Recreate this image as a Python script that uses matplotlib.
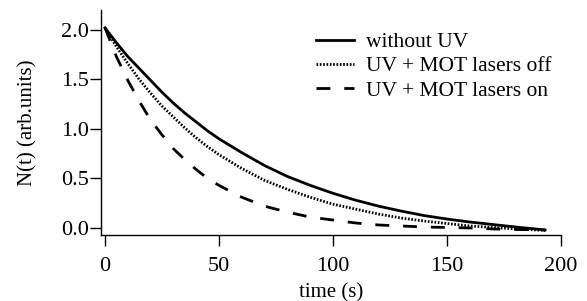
import numpy as np
import matplotlib
matplotlib.use("Agg")
import matplotlib.pyplot as plt

# time axis (s)
t = [0, 5, 10, 15, 20, 25, 30, 35, 40, 45, 50, 55, 60, 70, 80, 90, 100, 110, 120, 130, 140, 150, 160, 170, 180, 193]
n_without_uv = [2.02, 1.87, 1.73, 1.61, 1.49, 1.37, 1.26, 1.16, 1.07, 0.98, 0.90, 0.83, 0.76, 0.63, 0.52, 0.43, 0.35, 0.28, 0.22, 0.17, 0.125, 0.09, 0.06, 0.035, 0.01, -0.02]
n_mot_off = [2.02, 1.83, 1.66, 1.50, 1.36, 1.23, 1.12, 1.01, 0.91, 0.82, 0.74, 0.67, 0.60, 0.48, 0.39, 0.31, 0.24, 0.19, 0.14, 0.10, 0.07, 0.045, 0.02, 0.006, -0.01, -0.025]
n_mot_on = [2.02, 1.73, 1.49, 1.28, 1.09, 0.94, 0.80, 0.69, 0.59, 0.50, 0.43, 0.37, 0.31, 0.22, 0.16, 0.11, 0.08, 0.05, 0.03, 0.02, 0.01, 0.005, 0.0, -0.01, -0.015, -0.02]

labels = ["without UV", "UV + MOT lasers off", "UV + MOT lasers on"]

plt.rcParams['font.family'] = ['Liberation Serif', 'DejaVu Serif']

fig = plt.figure(figsize=(5.87, 3.01), dpi=100)
ax = fig.add_axes([101/587, 1-235/301, 460/587, 225/301])

ax.plot(t, n_without_uv, color='black', lw=2.0, label=labels[0])
ax.plot(t, n_mot_off, color='black', lw=2.0, linestyle=(0, (0.6, 0.6)), label=labels[1])
ax.plot(t, n_mot_on, color='black', lw=2.0, linestyle=(0, (5, 5)), label=labels[2])

ax.set_xlim(-1.75, 200)
ax.set_ylim(-0.071, 2.2)
ax.set_xticks([0, 50, 100, 150, 200])
ax.set_yticks([0.0, 0.5, 1.0, 1.5, 2.0])
ax.set_yticklabels(['0.0', '0.5', '1.0', '1.5', '2.0'])

for s in ['top', 'right']:
    ax.spines[s].set_visible(False)
for s in ['left', 'bottom']:
    ax.spines[s].set_linewidth(1.0)

ax.tick_params(axis='x', direction='out', length=8, width=1.0, pad=8, labelsize=16)
ax.tick_params(axis='y', direction='out', length=8, width=1.0, pad=1, labelsize=16)

ax.set_xlabel('time (s)', fontsize=15, labelpad=5)
ax.set_ylabel('N(t) (arb.units)', fontsize=15, labelpad=17)

fig.legend(loc='upper left', bbox_to_anchor=(316/587, 1-32/301), frameon=False,
           fontsize=15.5, handlelength=1.75, handletextpad=0.55, labelspacing=0.2,
           borderpad=0, borderaxespad=0)

fig.savefig('out.png', dpi=100)
